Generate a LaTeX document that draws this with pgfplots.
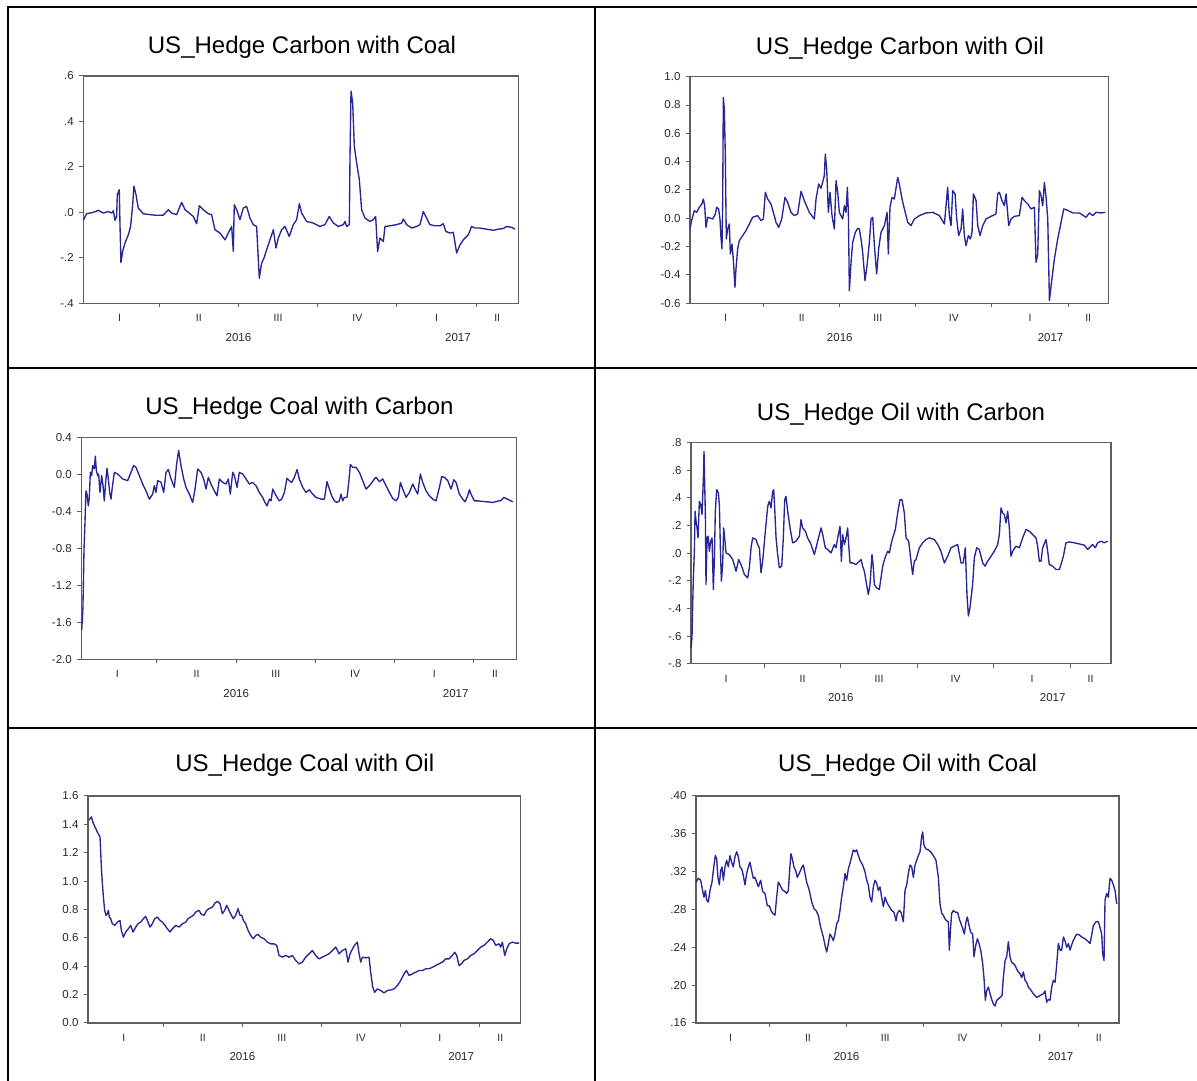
\documentclass[border=0pt]{standalone}
\usepackage{pgfplots}
\pgfplotsset{compat=1.18}
\usepackage{fontspec}
\setmainfont{Liberation Sans}
\definecolor{series}{RGB}{38,38,150}
\definecolor{frame}{RGB}{95,95,95}
\definecolor{lab}{RGB}{40,40,40}
\newcommand\titlefont{\fontsize{24pt}{28pt}\selectfont}
\newcommand\tickfont{\fontsize{11.5pt}{13pt}\selectfont}
\newcommand\qfont{\fontsize{10.5pt}{12pt}\selectfont}
\tikzset{yr/.style={font=\tickfont, text=lab, anchor=center, yshift=-34pt}}
\pgfplotsset{
 ser/.style={draw=series, line width=1.35pt, line join=round, no markers},
 evstyle/.style={
  scale only axis, anchor=south west, clip=false,
  axis line style={draw=frame, line width=1.3pt},
  tick style={draw=frame, line width=1pt},
  tick align=outside, major tick length=4pt,
  xtick pos=bottom, ytick pos=left,
  xtick={1,2,3,4,5}, xticklabels={,,,,},
  extra x ticks={0.5,1.5,2.5,3.5,4.5,5.265},
  extra x tick labels={I,II,III,IV,I,II},
  extra x tick style={major tick length=0pt, xticklabel style={font=\qfont, text=lab, anchor=center, yshift=-15pt}},
  yticklabel style={font=\tickfont, text=lab, anchor=east, xshift=-2pt},
 },
}
\begin{document}
\begin{tikzpicture}[x=1pt,y=1pt]
\useasboundingbox (0,0) rectangle (1197,1081);
\draw[line width=2pt] (7.7,0) -- (7.7,1074) -- (1197,1074);
\draw[line width=2pt] (595,0) -- (595,1074);
\draw[line width=2pt] (7.7,712.7) -- (1197,712.7);
\draw[line width=2pt] (7.7,353.2) -- (1197,353.2);

\node[anchor=base, font=\titlefont] at (302,1027.7) {US\_Hedge Carbon with Coal};
\node[anchor=base, font=\titlefont] at (900,1026.7) {US\_Hedge Carbon with Oil};
\node[anchor=base, font=\titlefont] at (299.5,666.7) {US\_Hedge Coal with Carbon};
\node[anchor=base, font=\titlefont] at (901,660.3) {US\_Hedge Oil with Carbon};
\node[anchor=base, font=\titlefont] at (304.8,309.7) {US\_Hedge Coal with Oil};
\node[anchor=base, font=\titlefont] at (907.6,309) {US\_Hedge Oil with Coal};

% Panel 1
\begin{axis}[evstyle, at={(83.3pt,777.7pt)}, width=435pt, height=227.3pt,
  xmin=0.042, xmax=5.531, ymin=-0.4, ymax=0.6,
  ytick={-0.4,-0.2,0,0.2,0.4,0.6}, yticklabels={-.4,-.2,.0,.2,.4,.6}]
\addplot[ser] coordinates {(0.042,-0.035)(0.084,-0.006)(0.168,0.000)(0.231,0.009)(0.294,-0.003)(0.358,0.004)(0.400,-0.003)(0.421,0.007)(0.442,-0.035)(0.463,-0.018)(0.471,0.078)(0.496,0.100)(0.505,-0.054)(0.517,-0.221)(0.538,-0.172)(0.568,-0.135)(0.610,-0.099)(0.639,-0.062)(0.665,0.034)(0.681,0.115)(0.707,0.078)(0.736,0.019)(0.799,-0.006)(0.883,-0.010)(0.967,-0.013)(1.052,-0.012)(1.115,0.012)(1.157,-0.003)(1.220,-0.010)(1.283,0.044)(1.325,0.012)(1.388,-0.006)(1.430,-0.018)(1.472,-0.050)(1.506,0.029)(1.556,0.012)(1.619,-0.006)(1.661,-0.010)(1.703,-0.076)(1.767,-0.091)(1.830,-0.121)(1.872,-0.091)(1.914,-0.062)(1.935,-0.172)(1.947,0.034)(1.977,0.012)(2.019,-0.032)(2.061,0.019)(2.103,0.026)(2.145,-0.025)(2.187,-0.054)(2.229,-0.062)(2.263,-0.290)(2.292,-0.224)(2.322,-0.201)(2.355,-0.165)(2.397,-0.121)(2.440,-0.076)(2.473,-0.157)(2.503,-0.113)(2.545,-0.076)(2.587,-0.062)(2.641,-0.106)(2.692,-0.054)(2.734,-0.032)(2.768,0.038)(2.797,-0.003)(2.860,-0.040)(2.944,-0.047)(3.028,-0.062)(3.091,-0.054)(3.146,-0.018)(3.197,-0.047)(3.260,-0.062)(3.323,-0.054)(3.344,-0.040)(3.365,-0.062)(3.399,-0.054)(3.407,0.232)(3.420,0.534)(3.441,0.482)(3.462,0.291)(3.491,0.218)(3.525,0.144)(3.554,0.012)(3.596,-0.025)(3.659,-0.040)(3.701,-0.032)(3.731,-0.018)(3.756,-0.172)(3.785,-0.113)(3.828,-0.128)(3.849,-0.062)(3.912,-0.059)(3.996,-0.054)(4.059,-0.047)(4.080,-0.029)(4.122,-0.054)(4.185,-0.069)(4.248,-0.062)(4.290,-0.054)(4.332,0.004)(4.374,-0.025)(4.416,-0.054)(4.479,-0.059)(4.543,-0.059)(4.585,-0.050)(4.618,-0.084)(4.669,-0.091)(4.711,-0.088)(4.753,-0.179)(4.795,-0.143)(4.837,-0.121)(4.900,-0.099)(4.942,-0.062)(4.984,-0.069)(5.047,-0.069)(5.131,-0.074)(5.216,-0.079)(5.279,-0.074)(5.342,-0.071)(5.384,-0.062)(5.447,-0.066)(5.489,-0.074)};
\node[yr] at (axis cs:2,-0.4) {2016};
\node[yr] at (axis cs:4.77,-0.4) {2017};
\end{axis}

% Panel 2
\begin{axis}[evstyle, at={(690pt,777.7pt)}, width=418.7pt, height=226.6pt,
  xmin=0.032, xmax=5.534, ymin=-0.6, ymax=1.0,
  ytick={-0.6,-0.4,-0.2,0,0.2,0.4,0.6,0.8,1.0}, yticklabels={-0.6,-0.4,-0.2,0.0,0.2,0.4,0.6,0.8,1.0}]
\addplot[ser] coordinates {(0.032,-0.071)(0.058,-0.005)(0.089,0.054)(0.119,0.042)(0.154,0.078)(0.189,0.101)(0.207,0.136)(0.225,0.089)(0.242,-0.064)(0.264,0.007)(0.295,0.002)(0.330,-0.005)(0.365,0.031)(0.382,0.078)(0.408,0.066)(0.426,-0.005)(0.439,-0.134)(0.452,-0.216)(0.461,0.089)(0.470,0.854)(0.483,0.772)(0.496,0.442)(0.509,-0.146)(0.527,-0.075)(0.549,-0.040)(0.562,-0.252)(0.584,-0.181)(0.601,-0.287)(0.623,-0.487)(0.636,-0.358)(0.658,-0.216)(0.680,-0.158)(0.724,-0.122)(0.768,-0.087)(0.811,-0.040)(0.855,0.007)(0.921,0.019)(0.965,-0.016)(0.996,-0.005)(1.022,0.184)(1.053,0.136)(1.096,0.101)(1.127,0.042)(1.162,-0.028)(1.197,-0.064)(1.237,-0.005)(1.280,0.148)(1.315,0.113)(1.359,0.042)(1.403,0.019)(1.447,0.031)(1.491,0.191)(1.534,0.125)(1.600,0.042)(1.666,-0.005)(1.688,0.136)(1.723,0.242)(1.753,0.212)(1.775,0.254)(1.797,0.301)(1.810,0.454)(1.828,0.348)(1.850,0.042)(1.872,0.184)(1.898,0.019)(1.929,-0.075)(1.951,0.266)(1.973,0.184)(1.994,0.042)(2.038,-0.005)(2.060,0.089)(2.082,0.042)(2.100,0.219)(2.113,0.042)(2.126,-0.511)(2.148,-0.311)(2.170,-0.169)(2.205,-0.099)(2.235,-0.071)(2.257,-0.075)(2.279,-0.146)(2.301,-0.240)(2.332,-0.440)(2.358,-0.334)(2.389,-0.169)(2.411,-0.005)(2.433,0.007)(2.455,-0.193)(2.485,-0.393)(2.511,-0.216)(2.542,-0.099)(2.586,-0.052)(2.621,0.042)(2.638,-0.252)(2.660,0.078)(2.687,0.148)(2.717,0.136)(2.761,0.289)(2.783,0.242)(2.818,0.136)(2.849,0.066)(2.893,-0.028)(2.936,-0.052)(2.980,-0.005)(3.046,0.019)(3.134,0.038)(3.221,0.042)(3.309,0.019)(3.375,-0.040)(3.418,0.219)(3.440,0.019)(3.462,-0.052)(3.484,0.195)(3.515,0.172)(3.537,-0.005)(3.563,-0.122)(3.594,-0.075)(3.615,0.066)(3.637,-0.122)(3.659,-0.193)(3.690,-0.122)(3.716,-0.146)(3.738,-0.099)(3.756,0.172)(3.791,0.125)(3.813,-0.052)(3.843,-0.122)(3.878,-0.052)(3.922,-0.005)(3.988,0.014)(4.053,0.031)(4.075,0.172)(4.097,0.184)(4.132,0.125)(4.163,0.089)(4.185,0.172)(4.220,-0.052)(4.251,-0.005)(4.294,0.014)(4.360,0.019)(4.395,0.148)(4.426,0.125)(4.470,0.101)(4.514,0.066)(4.557,0.078)(4.579,-0.311)(4.601,-0.252)(4.623,0.195)(4.645,0.160)(4.667,0.089)(4.689,0.254)(4.711,0.148)(4.733,-0.005)(4.755,-0.581)(4.785,-0.440)(4.820,-0.287)(4.864,-0.146)(4.908,-0.028)(4.943,0.066)(4.974,0.061)(5.061,0.038)(5.149,0.038)(5.236,0.007)(5.280,0.038)(5.324,0.019)(5.368,0.042)(5.434,0.038)(5.491,0.042)};
\node[yr] at (axis cs:2,-0.6) {2016};
\node[yr] at (axis cs:4.77,-0.6) {2017};
\end{axis}

% Panel 3
\begin{axis}[evstyle, at={(81.3pt,421.7pt)}, width=435pt, height=221.6pt,
  xmin=0.046, xmax=5.534, ymin=-2.0, ymax=0.4,
  ytick={-2.0,-1.6,-1.2,-0.8,-0.4,0,0.4}, yticklabels={-2.0,-1.6,-1.2,-0.8,-0.4,0.0,0.4}]
\addplot[ser] coordinates {(0.050,-1.684)(0.059,-1.575)(0.067,-1.429)(0.080,-0.811)(0.093,-0.502)(0.105,-0.175)(0.118,-0.211)(0.135,-0.338)(0.147,-0.247)(0.160,0.025)(0.177,-0.011)(0.189,0.098)(0.210,0.062)(0.223,0.200)(0.236,0.044)(0.252,-0.011)(0.265,0.007)(0.282,-0.193)(0.303,-0.011)(0.320,-0.120)(0.336,-0.284)(0.353,-0.084)(0.370,0.069)(0.387,-0.047)(0.404,-0.193)(0.421,-0.265)(0.437,-0.138)(0.463,0.025)(0.505,0.007)(0.568,-0.047)(0.631,-0.065)(0.673,0.025)(0.707,0.098)(0.736,0.080)(0.778,-0.011)(0.820,-0.102)(0.862,-0.175)(0.904,-0.265)(0.946,-0.211)(0.967,-0.120)(0.988,-0.193)(1.009,-0.065)(1.052,-0.084)(1.085,-0.193)(1.115,0.025)(1.144,0.055)(1.178,-0.047)(1.220,-0.138)(1.249,0.116)(1.274,0.262)(1.304,0.098)(1.338,-0.047)(1.367,-0.138)(1.409,-0.211)(1.451,-0.302)(1.481,-0.156)(1.514,0.062)(1.556,0.025)(1.590,-0.047)(1.619,-0.156)(1.649,-0.029)(1.682,-0.102)(1.724,-0.175)(1.758,-0.229)(1.788,-0.047)(1.830,-0.084)(1.872,-0.102)(1.901,-0.047)(1.926,-0.211)(1.956,0.025)(1.977,-0.011)(2.011,-0.138)(2.040,0.025)(2.082,0.007)(2.124,-0.047)(2.166,-0.102)(2.208,-0.084)(2.250,-0.120)(2.292,-0.193)(2.334,-0.247)(2.364,-0.302)(2.389,-0.338)(2.419,-0.265)(2.440,-0.284)(2.461,-0.156)(2.482,-0.193)(2.515,-0.247)(2.545,-0.284)(2.574,-0.265)(2.608,-0.193)(2.641,-0.040)(2.671,-0.065)(2.700,-0.084)(2.734,-0.029)(2.768,0.055)(2.797,-0.047)(2.839,-0.138)(2.881,-0.193)(2.923,-0.164)(2.965,-0.211)(3.007,-0.247)(3.070,-0.265)(3.113,-0.265)(3.146,-0.076)(3.176,-0.156)(3.205,-0.229)(3.239,-0.284)(3.272,-0.302)(3.302,-0.284)(3.323,-0.211)(3.344,-0.284)(3.365,-0.247)(3.399,-0.247)(3.420,-0.084)(3.441,0.109)(3.470,0.080)(3.512,0.080)(3.554,0.025)(3.596,-0.065)(3.638,-0.156)(3.680,-0.120)(3.722,-0.076)(3.743,-0.047)(3.764,-0.029)(3.807,-0.076)(3.849,-0.047)(3.891,-0.120)(3.933,-0.193)(3.975,-0.258)(4.017,-0.284)(4.046,-0.247)(4.072,-0.084)(4.101,-0.156)(4.143,-0.247)(4.185,-0.193)(4.227,-0.102)(4.257,-0.156)(4.290,-0.211)(4.324,0.007)(4.353,-0.084)(4.395,-0.175)(4.437,-0.229)(4.479,-0.265)(4.522,-0.284)(4.564,-0.138)(4.593,-0.022)(4.627,-0.029)(4.669,-0.065)(4.711,-0.156)(4.745,-0.055)(4.774,-0.084)(4.816,-0.211)(4.858,-0.265)(4.888,-0.295)(4.921,-0.229)(4.942,-0.164)(4.963,-0.211)(5.005,-0.284)(5.047,-0.284)(5.110,-0.291)(5.174,-0.295)(5.237,-0.302)(5.300,-0.287)(5.342,-0.280)(5.375,-0.247)(5.405,-0.258)(5.447,-0.276)(5.489,-0.295)};
\node[yr] at (axis cs:2,-2.0) {2016};
\node[yr] at (axis cs:4.77,-2.0) {2017};
\end{axis}

% Panel 4
\begin{axis}[evstyle, at={(691pt,417.3pt)}, width=420pt, height=221pt,
  xmin=0.041, xmax=5.532, ymin=-0.8, ymax=0.8,
  ytick={-0.8,-0.6,-0.4,-0.2,0,0.2,0.4,0.6,0.8}, yticklabels={-.8,-.6,-.4,-.2,.0,.2,.4,.6,.8}]
\addplot[ser] coordinates {(0.041,-0.684)(0.054,-0.612)(0.063,-0.371)(0.072,-0.178)(0.085,0.014)(0.094,0.304)(0.107,0.231)(0.120,0.183)(0.133,0.111)(0.150,0.376)(0.168,0.352)(0.185,0.280)(0.203,0.545)(0.211,0.737)(0.220,0.496)(0.229,0.280)(0.237,-0.227)(0.251,0.111)(0.264,0.123)(0.281,0.014)(0.298,0.087)(0.316,0.111)(0.333,-0.263)(0.346,-0.058)(0.359,0.304)(0.377,0.460)(0.399,0.436)(0.412,0.352)(0.425,0.039)(0.438,-0.202)(0.455,-0.082)(0.468,0.183)(0.481,0.111)(0.499,0.002)(0.542,-0.010)(0.586,-0.046)(0.630,-0.130)(0.664,-0.046)(0.695,-0.082)(0.739,-0.154)(0.782,-0.178)(0.804,-0.106)(0.826,0.039)(0.847,0.111)(0.891,0.099)(0.913,0.063)(0.935,0.039)(0.956,-0.142)(0.978,-0.058)(1.013,0.159)(1.044,0.340)(1.065,0.376)(1.087,0.328)(1.109,0.448)(1.122,0.460)(1.135,0.328)(1.153,0.111)(1.174,-0.010)(1.196,-0.106)(1.227,-0.094)(1.248,0.111)(1.266,0.388)(1.283,0.412)(1.305,0.304)(1.336,0.183)(1.370,0.075)(1.414,0.087)(1.458,0.123)(1.479,0.243)(1.501,0.183)(1.536,0.159)(1.566,0.111)(1.610,0.063)(1.654,-0.010)(1.697,0.087)(1.741,0.183)(1.763,0.135)(1.797,0.039)(1.828,0.027)(1.871,0.002)(1.915,0.063)(1.937,0.039)(1.959,0.111)(1.989,0.195)(2.007,-0.058)(2.024,0.135)(2.046,0.063)(2.068,0.111)(2.089,0.183)(2.102,0.063)(2.120,-0.070)(2.155,-0.070)(2.198,-0.082)(2.242,-0.058)(2.264,-0.046)(2.285,-0.094)(2.307,-0.130)(2.329,-0.202)(2.359,-0.299)(2.381,-0.227)(2.407,-0.010)(2.425,-0.106)(2.438,-0.227)(2.468,-0.251)(2.503,-0.263)(2.525,-0.178)(2.547,-0.094)(2.577,-0.034)(2.612,0.014)(2.634,0.002)(2.656,0.063)(2.678,0.111)(2.712,0.171)(2.743,0.292)(2.773,0.388)(2.799,0.388)(2.830,0.292)(2.852,0.111)(2.887,0.087)(2.917,-0.058)(2.939,-0.154)(2.961,-0.058)(2.983,-0.046)(3.026,0.039)(3.070,0.075)(3.113,0.099)(3.157,0.111)(3.222,0.099)(3.266,0.063)(3.309,0.014)(3.353,-0.070)(3.397,-0.022)(3.440,0.039)(3.484,0.051)(3.527,0.063)(3.571,-0.070)(3.601,-0.070)(3.627,0.039)(3.649,-0.299)(3.667,-0.455)(3.688,-0.395)(3.723,-0.227)(3.745,-0.034)(3.776,0.039)(3.810,0.027)(3.854,-0.070)(3.885,-0.094)(3.919,-0.058)(3.963,-0.022)(4.007,0.014)(4.050,0.063)(4.072,0.135)(4.094,0.328)(4.115,0.292)(4.137,0.280)(4.159,0.219)(4.181,0.304)(4.203,0.183)(4.224,-0.022)(4.246,0.014)(4.290,0.051)(4.333,0.039)(4.377,0.111)(4.420,0.171)(4.464,0.159)(4.508,0.135)(4.551,0.111)(4.573,0.051)(4.595,-0.058)(4.617,-0.058)(4.638,0.039)(4.682,0.099)(4.704,0.014)(4.725,-0.082)(4.769,-0.094)(4.813,-0.118)(4.856,-0.118)(4.878,-0.082)(4.909,-0.022)(4.943,0.075)(4.987,0.082)(5.052,0.075)(5.118,0.067)(5.183,0.058)(5.227,0.027)(5.248,0.039)(5.292,0.063)(5.327,0.039)(5.357,0.075)(5.401,0.087)(5.444,0.075)(5.488,0.087)};
\node[yr] at (axis cs:2,-0.8) {2016};
\node[yr] at (axis cs:4.77,-0.8) {2017};
\end{axis}

% Panel 5
\begin{axis}[evstyle, at={(88pt,58pt)}, width=432.7pt, height=227pt,
  xmin=0.046, xmax=5.523, ymin=0, ymax=1.6,
  ytick={0,0.2,0.4,0.6,0.8,1.0,1.2,1.4,1.6}, yticklabels={0.0,0.2,0.4,0.6,0.8,1.0,1.2,1.4,1.6}]
\addplot[ser] coordinates {(0.059,1.430)(0.089,1.453)(0.114,1.406)(0.143,1.371)(0.173,1.336)(0.198,1.312)(0.215,1.100)(0.228,0.982)(0.241,0.888)(0.257,0.794)(0.274,0.759)(0.291,0.770)(0.304,0.794)(0.316,0.747)(0.333,0.735)(0.354,0.700)(0.384,0.688)(0.418,0.711)(0.451,0.723)(0.468,0.653)(0.494,0.605)(0.523,0.641)(0.557,0.664)(0.586,0.688)(0.616,0.641)(0.650,0.676)(0.679,0.700)(0.713,0.711)(0.747,0.735)(0.776,0.751)(0.797,0.723)(0.831,0.676)(0.861,0.700)(0.890,0.735)(0.924,0.747)(0.958,0.723)(0.987,0.711)(1.021,0.688)(1.051,0.664)(1.084,0.641)(1.114,0.664)(1.156,0.688)(1.198,0.676)(1.241,0.700)(1.283,0.711)(1.312,0.735)(1.346,0.747)(1.380,0.759)(1.409,0.782)(1.451,0.794)(1.481,0.766)(1.515,0.759)(1.549,0.794)(1.578,0.806)(1.620,0.817)(1.654,0.846)(1.684,0.857)(1.717,0.841)(1.747,0.770)(1.776,0.794)(1.802,0.829)(1.831,0.794)(1.861,0.759)(1.886,0.735)(1.916,0.759)(1.945,0.806)(1.970,0.759)(1.992,0.759)(2.013,0.723)(2.042,0.700)(2.072,0.653)(2.105,0.617)(2.139,0.594)(2.169,0.617)(2.198,0.624)(2.232,0.605)(2.274,0.594)(2.316,0.570)(2.359,0.558)(2.401,0.558)(2.435,0.547)(2.464,0.476)(2.506,0.464)(2.549,0.476)(2.591,0.464)(2.633,0.476)(2.675,0.441)(2.717,0.417)(2.759,0.429)(2.802,0.464)(2.844,0.488)(2.886,0.511)(2.928,0.476)(2.970,0.452)(3.013,0.464)(3.055,0.476)(3.097,0.488)(3.139,0.511)(3.181,0.535)(3.224,0.488)(3.266,0.511)(3.308,0.523)(3.338,0.429)(3.363,0.488)(3.405,0.535)(3.435,0.558)(3.456,0.570)(3.477,0.488)(3.498,0.429)(3.519,0.464)(3.561,0.459)(3.603,0.464)(3.624,0.358)(3.650,0.252)(3.675,0.217)(3.709,0.240)(3.751,0.229)(3.793,0.212)(3.835,0.229)(3.878,0.233)(3.920,0.240)(3.962,0.264)(4.004,0.299)(4.046,0.346)(4.076,0.370)(4.110,0.335)(4.152,0.346)(4.194,0.358)(4.236,0.370)(4.278,0.370)(4.321,0.382)(4.363,0.382)(4.405,0.393)(4.447,0.405)(4.489,0.417)(4.532,0.429)(4.574,0.452)(4.616,0.452)(4.658,0.476)(4.688,0.499)(4.713,0.476)(4.743,0.405)(4.772,0.417)(4.806,0.441)(4.848,0.452)(4.890,0.476)(4.932,0.488)(4.975,0.511)(5.017,0.535)(5.059,0.547)(5.101,0.570)(5.143,0.594)(5.177,0.582)(5.207,0.547)(5.249,0.558)(5.270,0.535)(5.291,0.570)(5.321,0.476)(5.346,0.523)(5.376,0.558)(5.418,0.570)(5.460,0.563)(5.502,0.563)};
\node[yr] at (axis cs:2,0) {2016};
\node[yr] at (axis cs:4.77,0) {2017};
\end{axis}

% Panel 6
\begin{axis}[evstyle, at={(696pt,58pt)}, width=423pt, height=227pt,
  xmin=0.051, xmax=5.526, ymin=0.16, ymax=0.40,
  ytick={0.16,0.20,0.24,0.28,0.32,0.36,0.40}, yticklabels={.16,.20,.24,.28,.32,.36,.40}]
\addplot[ser] coordinates {(0.051,0.309)(0.081,0.313)(0.111,0.311)(0.137,0.300)(0.154,0.293)(0.172,0.300)(0.189,0.290)(0.210,0.288)(0.232,0.300)(0.258,0.309)(0.284,0.327)(0.301,0.337)(0.318,0.334)(0.335,0.314)(0.353,0.306)(0.370,0.321)(0.387,0.325)(0.405,0.311)(0.426,0.325)(0.448,0.332)(0.469,0.325)(0.491,0.337)(0.512,0.330)(0.534,0.325)(0.556,0.336)(0.577,0.341)(0.599,0.336)(0.620,0.325)(0.642,0.323)(0.663,0.316)(0.685,0.306)(0.707,0.318)(0.728,0.325)(0.750,0.330)(0.771,0.321)(0.793,0.313)(0.814,0.314)(0.836,0.309)(0.858,0.304)(0.888,0.311)(0.914,0.299)(0.944,0.297)(0.974,0.284)(1.000,0.284)(1.022,0.279)(1.043,0.276)(1.073,0.274)(1.095,0.293)(1.116,0.309)(1.138,0.306)(1.160,0.302)(1.181,0.300)(1.203,0.299)(1.224,0.297)(1.246,0.300)(1.268,0.327)(1.280,0.339)(1.302,0.332)(1.319,0.325)(1.345,0.320)(1.362,0.314)(1.397,0.320)(1.423,0.325)(1.440,0.327)(1.462,0.318)(1.483,0.309)(1.518,0.300)(1.548,0.288)(1.578,0.281)(1.604,0.279)(1.634,0.274)(1.665,0.261)(1.699,0.251)(1.721,0.242)(1.742,0.235)(1.764,0.244)(1.785,0.254)(1.807,0.251)(1.829,0.247)(1.850,0.254)(1.872,0.265)(1.893,0.268)(1.915,0.279)(1.936,0.293)(1.958,0.304)(1.980,0.318)(2.001,0.311)(2.023,0.323)(2.044,0.329)(2.066,0.336)(2.087,0.343)(2.109,0.341)(2.131,0.343)(2.152,0.337)(2.174,0.332)(2.208,0.327)(2.238,0.320)(2.260,0.311)(2.281,0.306)(2.303,0.293)(2.325,0.288)(2.346,0.304)(2.368,0.311)(2.389,0.308)(2.411,0.300)(2.432,0.304)(2.454,0.293)(2.476,0.283)(2.497,0.293)(2.519,0.288)(2.553,0.283)(2.584,0.279)(2.614,0.277)(2.640,0.268)(2.657,0.276)(2.683,0.279)(2.705,0.277)(2.735,0.267)(2.756,0.300)(2.778,0.306)(2.799,0.318)(2.821,0.327)(2.843,0.325)(2.864,0.314)(2.886,0.327)(2.907,0.332)(2.929,0.337)(2.950,0.341)(2.972,0.357)(2.985,0.362)(3.002,0.348)(3.028,0.344)(3.058,0.343)(3.088,0.341)(3.123,0.337)(3.157,0.332)(3.188,0.314)(3.209,0.286)(3.231,0.276)(3.252,0.274)(3.274,0.270)(3.296,0.268)(3.317,0.267)(3.330,0.237)(3.347,0.261)(3.360,0.276)(3.382,0.279)(3.412,0.277)(3.438,0.277)(3.459,0.270)(3.481,0.265)(3.503,0.260)(3.524,0.254)(3.546,0.267)(3.563,0.272)(3.580,0.265)(3.606,0.256)(3.632,0.254)(3.649,0.230)(3.671,0.242)(3.693,0.249)(3.714,0.244)(3.736,0.237)(3.761,0.223)(3.779,0.207)(3.796,0.184)(3.813,0.194)(3.835,0.198)(3.857,0.191)(3.878,0.185)(3.900,0.180)(3.921,0.178)(3.943,0.184)(3.986,0.187)(4.012,0.189)(4.029,0.208)(4.051,0.226)(4.072,0.230)(4.094,0.246)(4.115,0.230)(4.137,0.224)(4.159,0.223)(4.180,0.221)(4.202,0.217)(4.223,0.214)(4.245,0.212)(4.266,0.208)(4.288,0.214)(4.310,0.205)(4.331,0.203)(4.353,0.198)(4.374,0.196)(4.417,0.191)(4.461,0.187)(4.504,0.189)(4.547,0.191)(4.568,0.194)(4.590,0.182)(4.612,0.185)(4.633,0.184)(4.655,0.198)(4.676,0.205)(4.698,0.203)(4.719,0.221)(4.741,0.244)(4.763,0.237)(4.784,0.237)(4.806,0.251)(4.827,0.247)(4.849,0.240)(4.871,0.244)(4.892,0.237)(4.927,0.246)(4.957,0.251)(4.978,0.254)(5.013,0.253)(5.043,0.251)(5.086,0.249)(5.129,0.246)(5.151,0.244)(5.172,0.253)(5.194,0.263)(5.229,0.267)(5.259,0.267)(5.280,0.261)(5.302,0.254)(5.315,0.233)(5.332,0.226)(5.345,0.290)(5.367,0.297)(5.388,0.293)(5.410,0.313)(5.431,0.311)(5.453,0.306)(5.475,0.300)(5.496,0.286)};
\node[yr] at (axis cs:2,0.16) {2016};
\node[yr] at (axis cs:4.77,0.16) {2017};
\end{axis}
\end{tikzpicture}
\end{document}
